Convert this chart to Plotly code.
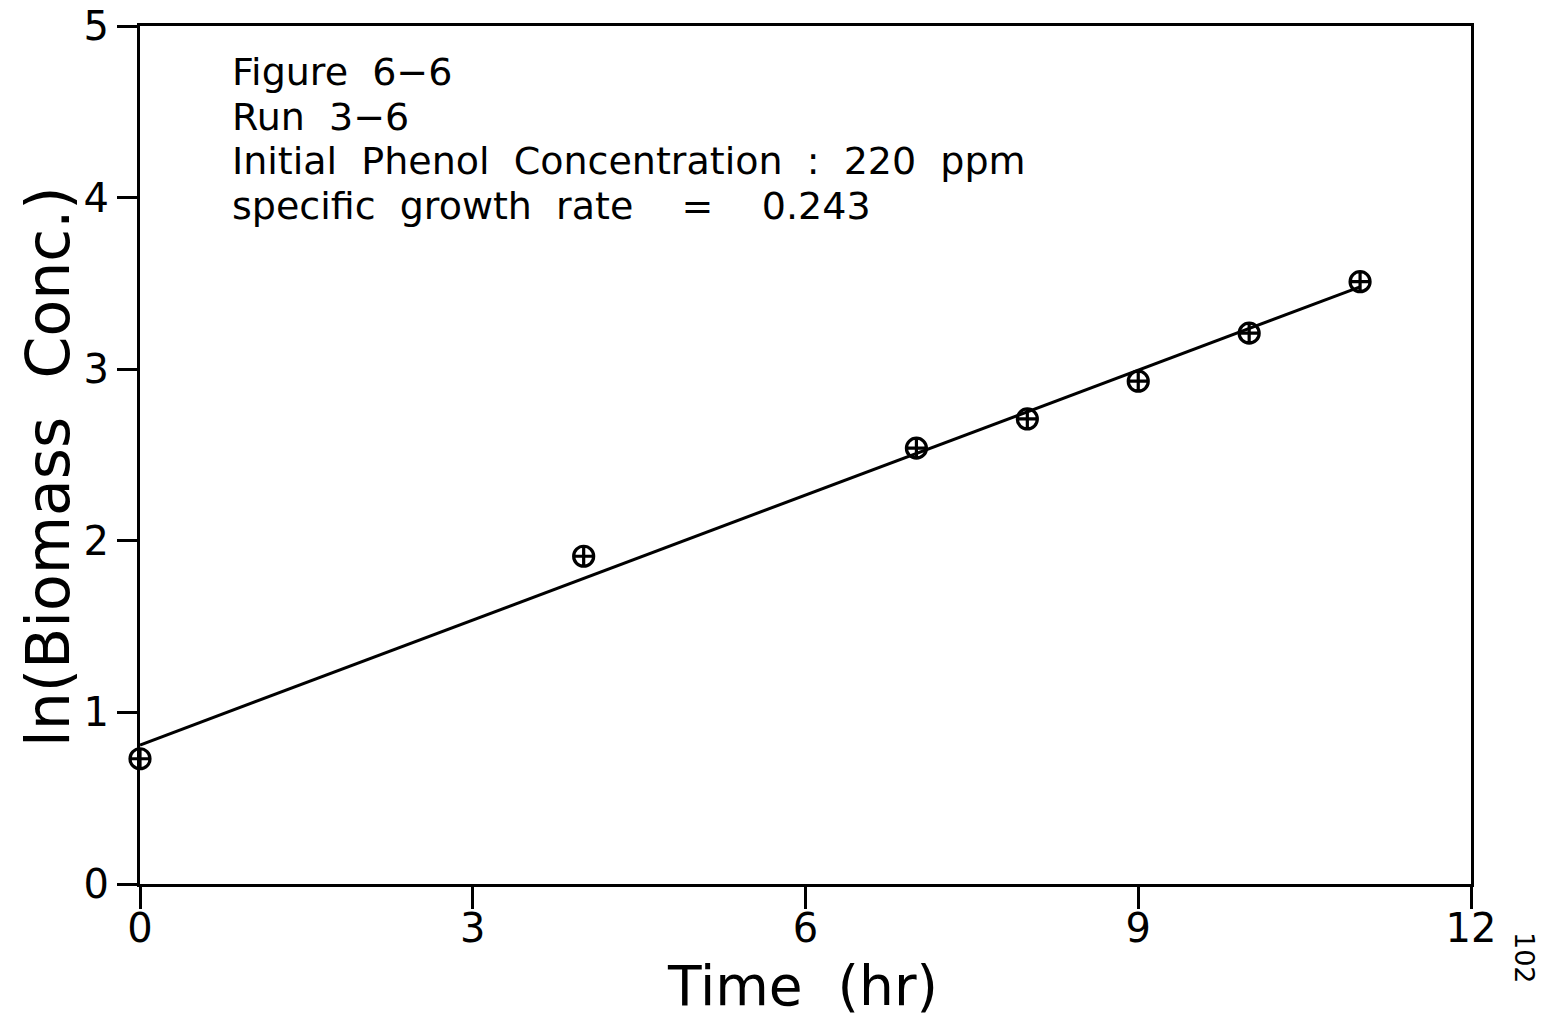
import plotly.graph_objects as go

# Data
time_hr = [0, 4, 7, 8, 9, 10, 11]
ln_biomass = [0.73, 1.91, 2.54, 2.71, 2.93, 3.21, 3.51]
fit_x = [0, 11]
fit_y = [0.81, 3.48]
x_ticks = [0, 3, 6, 9, 12]
y_ticks = [0, 1, 2, 3, 4, 5]
x_title = "Time\u00a0 (hr)"
y_title = "ln(Biomass\u00a0 Conc.)"
info_lines = [
    "Figure\u00a0 6\u22126",
    "Run\u00a0 3\u22126",
    "Initial\u00a0 Phenol\u00a0 Concentration\u00a0 :\u00a0 220\u00a0 ppm",
    "specific\u00a0 growth\u00a0 rate\u00a0\u00a0\u00a0 =\u00a0\u00a0\u00a0 0.243",
]

W, H = 1547, 1019
L, R, T, B = 140, 76, 26, 135
FONT = "DejaVu Sans"

fig = go.Figure()
fig.add_trace(go.Scatter(x=fit_x, y=fit_y, mode="lines",
                         line=dict(color="black", width=3), cliponaxis=False,
                         showlegend=False, hoverinfo="skip"))
fig.add_trace(go.Scatter(x=time_hr, y=ln_biomass, mode="markers",
                         marker=dict(symbol="circle-cross-open", size=20, color="black",
                                     line=dict(color="black", width=3.2)),
                         cliponaxis=False, showlegend=False))

pw = W - L - R
ph = H - T - B

def px_to_paper(x, y):
    return (x - L) / pw, (H - B - y) / ph

annotations = []
centers_y = [72, 116.5, 161, 205.5]
for text, cy in zip(info_lines, centers_y):
    ax, ay = px_to_paper(230, cy)
    annotations.append(dict(text=text, x=ax, y=ay, xref="paper", yref="paper",
                            xanchor="left", yanchor="middle", showarrow=False,
                            font=dict(family=FONT, size=38, color="black")))

ax, ay = px_to_paper(1525, 958)
annotations.append(dict(text="102", x=ax, y=ay, xref="paper", yref="paper",
                        xanchor="center", yanchor="middle", showarrow=False, textangle=90,
                        font=dict(family=FONT, size=27, color="black")))

ax, ay = px_to_paper(802, 986)
annotations.append(dict(text=x_title, x=ax, y=ay, xref="paper", yref="paper",
                        xanchor="center", yanchor="middle", showarrow=False,
                        font=dict(family=FONT, size=55, color="black")))

ax, ay = px_to_paper(48, 467)
annotations.append(dict(text=y_title, x=ax, y=ay, xref="paper", yref="paper",
                        xanchor="center", yanchor="middle", showarrow=False, textangle=-90,
                        font=dict(family=FONT, size=60, color="black")))

fig.update_layout(
    width=W, height=H,
    margin=dict(l=L, r=R, t=T, b=B),
    paper_bgcolor="white", plot_bgcolor="white",
    annotations=annotations,
    xaxis=dict(range=[0, 12], tickvals=x_ticks, ticktext=[str(v) for v in x_ticks],
               showgrid=False, zeroline=False, showline=True, linecolor="black", linewidth=3,
               mirror=True, ticks="outside", ticklen=22, tickwidth=3, tickcolor="black",
               tickfont=dict(family=FONT, size=40, color="black"), ticklabelstandoff=-15,
               automargin=False),
    yaxis=dict(range=[0, 5], tickvals=y_ticks, ticktext=[str(v) for v in y_ticks],
               showgrid=False, zeroline=False, showline=True, linecolor="black", linewidth=3,
               mirror=True, ticks="outside", ticklen=20, tickwidth=3, tickcolor="black",
               tickfont=dict(family=FONT, size=40, color="black"), ticklabelstandoff=0,
               automargin=False),
)

fig.write_html("out.html")
